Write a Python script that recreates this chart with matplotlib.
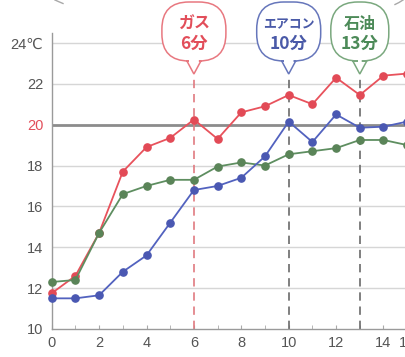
import matplotlib
matplotlib.use("Agg")
import matplotlib.pyplot as plt
from matplotlib.path import Path
from matplotlib.patches import PathPatch
from matplotlib.lines import Line2D
from matplotlib.transforms import IdentityTransform

# Elapsed minutes and room temperature (°C) for each heater type
minutes = list(range(16))
gas = [11.75, 12.6, 14.7, 17.7, 18.9, 19.35, 20.25, 19.3, 20.6, 20.9, 21.45, 21.0, 22.3, 21.45, 22.4, 22.5]
aircon = [11.5, 11.5, 11.65, 12.8, 13.6, 15.2, 16.8, 17.0, 17.4, 18.45, 20.15, 19.15, 20.5, 19.85, 19.9, 20.15]
oil = [12.3, 12.4, 14.7, 16.6, 17.0, 17.3, 17.3, 17.95, 18.15, 18.0, 18.55, 18.7, 18.85, 19.25, 19.25, 19.0]

# Time each heater needs to reach the 20°C target
target = 20
callouts = [
    (6, "ガス", "6分", "#e24e5a", "#e87880", "#e07a80"),
    (10, "エアコン", "10分", "#4a5aa8", "#6676bb", "#6a6a6a"),
    (13, "石油", "13分", "#4c8a58", "#7aa87e", "#6a6a6a"),
]

y_ticks = [10, 12, 14, 16, 18, 20, 22, 24]
y_labels = ["10", "12", "14", "16", "18", "20", "22", "24℃"]
x_ticks = [0, 2, 4, 6, 8, 10, 12, 14, 15]
x_labels = ["0", "2", "4", "6", "8", "10", "12", "14", "15"]

W, H = 405, 357
fig = plt.figure(figsize=(W / 100, H / 100), dpi=100)
fig.patch.set_facecolor("white")

x0_px, xmax = 51.7, 15.5
px_per_x = 23.7
ax = fig.add_axes([x0_px / W, 28 / H, (xmax * px_per_x) / W, 296.3 / H])
ax.set_xlim(0, xmax)
ax.set_ylim(10, 24.5)

tick_font = dict(family=["Liberation Sans", "DejaVu Sans"])

# grid and target line
for yv in y_ticks:
    if yv in (10, target):
        continue
    ax.axhline(yv, color="#d6d6d6", lw=1.0, zorder=1)
ax.axhline(target, color="#8c8c8c", lw=2.0, zorder=1.5)

for side in ("top", "right"):
    ax.spines[side].set_visible(False)
for side in ("left", "bottom"):
    ax.spines[side].set_color("#9a9a9a")
    ax.spines[side].set_linewidth(1.0)

ax.set_yticks(y_ticks)
ax.set_yticklabels(y_labels, fontsize=10.5, color="#555555", **tick_font)
ax.tick_params(axis="y", length=0, pad=6)
for lbl in ax.get_yticklabels():
    if lbl.get_text() == str(target):
        lbl.set_color("#e24e5a")

ax.set_xticks(x_ticks)
ax.set_xticklabels(x_labels, fontsize=10.5, color="#555555", **tick_font)
ax.set_xticks(list(range(1, 16, 2)), minor=True)
ax.tick_params(axis="x", which="both", direction="in", length=3, color="#aaaaaa", pad=5)

# series
ax.plot(minutes, gas, color="#e8525c", lw=1.3, marker="o", ms=5.2,
        mfc="#e24a56", mec="#e24a56", zorder=4, clip_on=False)
ax.plot(minutes, oil, color="#5e8e60", lw=1.3, marker="o", ms=5.2,
        mfc="#5a8458", mec="#5a8458", zorder=4, clip_on=False)
ax.plot(minutes, aircon, color="#5262bf", lw=1.3, marker="o", ms=5.2,
        mfc="#4a58b2", mec="#4a58b2", zorder=5, clip_on=False)

# speech-bubble callouts with dashed markers
ident = IdentityTransform()
top_px, body_px, tip_px = H - 2, H - 61, H - 74


def bubble_path(cx, w, top, bottom, tip, r, notch):
    left, right = cx - w / 2, cx + w / 2
    verts = [
        (cx - notch, bottom), (left + r, bottom),
        (left, bottom), (left, bottom + r),
        (left, top - r),
        (left, top), (left + r, top),
        (right - r, top),
        (right, top), (right, top - r),
        (right, bottom + r),
        (right, bottom), (right - r, bottom),
        (cx + notch, bottom), (cx, tip), (cx - notch, bottom),
    ]
    codes = [Path.MOVETO, Path.LINETO,
             Path.CURVE3, Path.CURVE3,
             Path.LINETO,
             Path.CURVE3, Path.CURVE3,
             Path.LINETO,
             Path.CURVE3, Path.CURVE3,
             Path.LINETO,
             Path.CURVE3, Path.CURVE3,
             Path.LINETO, Path.LINETO, Path.CLOSEPOLY]
    return Path(verts, codes)


widths = {6: 64, 10: 64, 13: 58}
cjk = ["Noto Sans CJK JP", "DejaVu Sans"]
for xm, name, mins, tcol, ecol, dcol in callouts:
    cx = ax.transData.transform((xm, 0))[0]
    tip_y = ax.transData.inverted().transform((cx, tip_px))[1]
    ax.plot([xm, xm], [10, tip_y], color=dcol, lw=1.2, ls=(0, (5, 3.5)),
            zorder=2, clip_on=False)
    patch = PathPatch(bubble_path(cx, widths[xm], top_px, body_px, tip_px, 27, 7),
                      transform=ident, facecolor="white", edgecolor=ecol, lw=1.1,
                      zorder=10)
    fig.add_artist(patch)
    fs1 = 9.3 if len(name) > 2 else 11.5
    fig.text(cx / W, (H - 24) / H, name, ha="center", va="center", fontsize=fs1,
             color=tcol, fontweight="bold", family=cjk, zorder=11)
    fig.text(cx / W, (H - 44) / H, mins, ha="center", va="center", fontsize=12.5,
             color=tcol, fontweight="bold", family=cjk, zorder=11)

# faint decorative strokes along the upper edge
fig.add_artist(Line2D([55, 59, 63], [H, H - 1.8, H - 3.5], transform=ident,
                      color="#a8a8a8", lw=1.0))
fig.add_artist(Line2D([395, 399, 403], [H - 4.5, H - 2.5, H], transform=ident,
                      color="#a8a8a8", lw=1.0))

fig.savefig("out.png", dpi=100, facecolor="white")
